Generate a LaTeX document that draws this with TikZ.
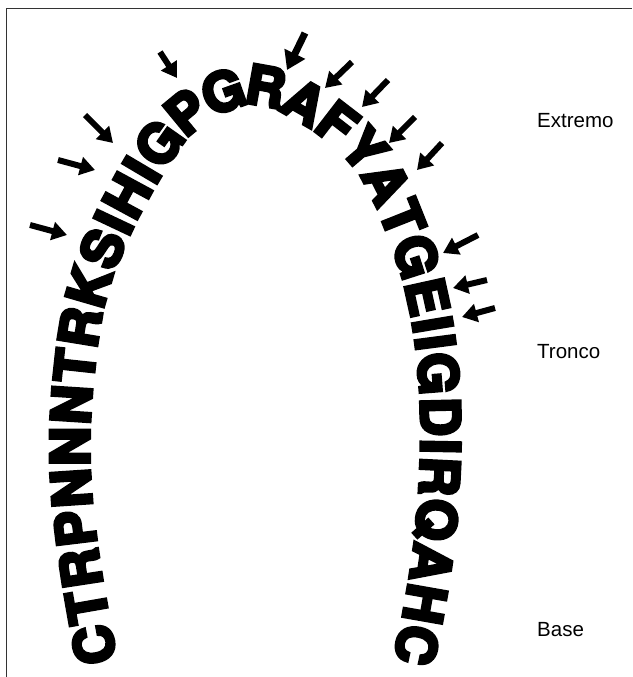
\documentclass[tikz,border=0pt]{standalone}
\usepackage{fontspec}
\setmainfont{Liberation Sans}
\newfontfamily\heavy{texgyreheros-bold.otf}[FakeBold=6]
\newcommand\seqfont{\heavy\fontsize{54pt}{54pt}\selectfont}
\usetikzlibrary{arrows.meta,decorations.text}
\tikzset{
  frameline/.style={line width=1.3pt, draw=black!80},
  pointer/.style={line width=6pt, -{Triangle[length=15pt,width=18pt]}},
  bigpointer/.style={line width=7pt, -{Triangle[length=18pt,width=22pt]}},
  regionlabel/.style={anchor=base west, inner sep=0pt, font=\fontsize{20.5pt}{20.5pt}\selectfont}
}
\begin{document}
\begin{tikzpicture}[x=1pt,y=1pt]
\useasboundingbox (0,0) rectangle (632,-677);
% frame (top and left edges)
\coordinate (fA) at (6.5,-677);
\coordinate (fB) at (6.5,-8.5);
\coordinate (fC) at (632,-8.5);
\draw[frameline] (fA) -- (fB) -- (fC);
% sequence along the arch
\path[decorate, decoration={text along path, raise=-19pt,
    text align=fit to path,
    text={|\seqfont|CTRPNNNTRKSIHIGPGRAFYATGEIIGDIRQAHC}}]
  plot[smooth, tension=0.6] coordinates {
   (98,-664) (80,-560) (71,-470) (74,-380) (90,-285) (130,-192)
   (184,-115) (250,-86) (310,-106) (370,-157) (410,-240) (432,-325)
   (440,-420) (436,-520) (425,-600) (412,-664)};
% arrows
\coordinate (t1) at (30,-225);  \coordinate (h1) at (67,-235);
\coordinate (t2) at (58,-160);  \coordinate (h2) at (95,-170);
\coordinate (t3) at (85,-115);  \coordinate (h3) at (113,-143);
\coordinate (t4) at (160,-52);  \coordinate (h4) at (177,-78);
\coordinate (t5) at (305,-33);  \coordinate (h5) at (287,-70);
\coordinate (t6) at (352,-62);  \coordinate (h6) at (325,-88);
\coordinate (t7) at (388,-80);  \coordinate (h7) at (362,-107);
\coordinate (t8) at (415,-117); \coordinate (h8) at (389,-143);
\coordinate (t9) at (442,-143); \coordinate (h9) at (417,-170);
\coordinate (t10) at (478,-235); \coordinate (h10) at (443,-253);
\coordinate (t11) at (487,-280); \coordinate (h11) at (453,-288);
\coordinate (t12) at (495,-308); \coordinate (h12) at (462,-317);
\foreach \i in {1,2,3,4,6,7,8,9,10,11,12} {\draw[pointer] (t\i) -- (h\i);}
\draw[bigpointer] (t5) -- (h5);
% labels
\node[regionlabel] (extremo) at (537,-127) {Extremo};
\node[regionlabel] (tronco) at (537,-358) {Tronco};
\node[regionlabel] (base) at (537,-636) {Base};
\end{tikzpicture}
\end{document}
